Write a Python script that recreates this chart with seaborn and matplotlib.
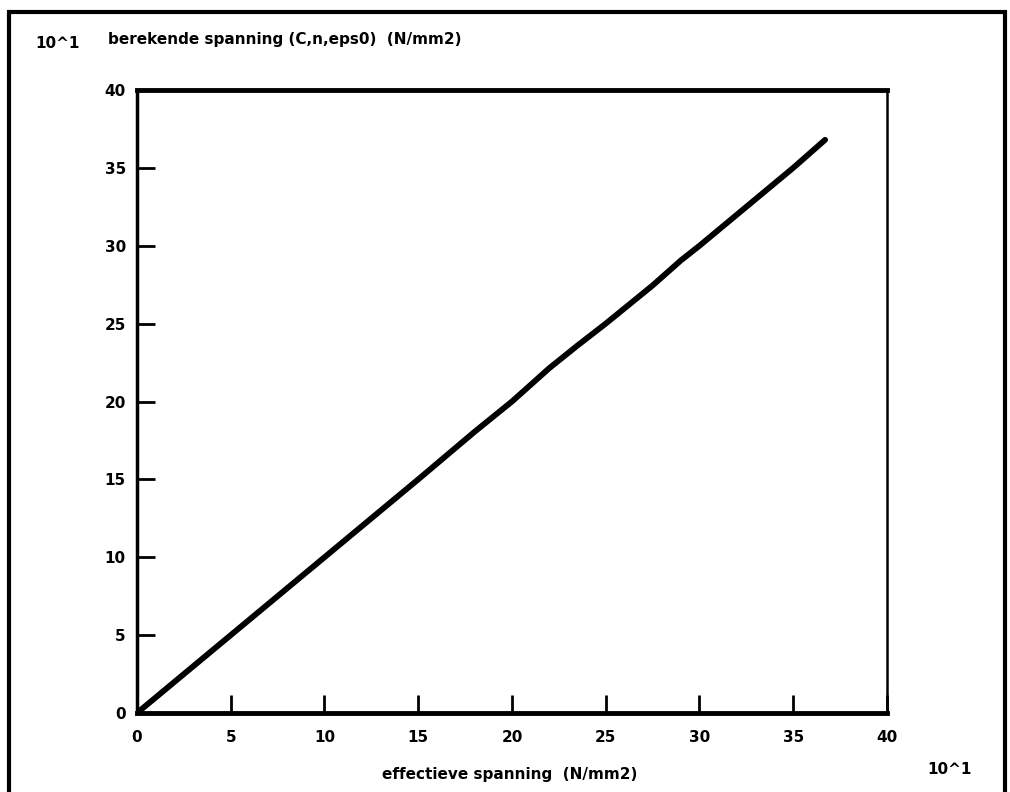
#!/usr/bin/env python3
"""Berekende vs effectieve spanning (units of 10^1 N/mm2)."""

import matplotlib.pyplot as plt
import matplotlib.patches as patches
import pandas as pd
import seaborn as sns

# Values (x and y both in 10^1 N/mm2)
effectief = [0.0, 5.0, 10.0, 15.0, 18.0, 20.0, 22.0, 23.5, 25.0,
             27.5, 29.0, 30.0, 35.0, 36.7]
berekend = [0.0, 5.0, 10.0, 15.0, 18.05, 20.0, 22.15, 23.6, 25.0,
            27.45, 29.05, 30.0, 35.0, 36.8]
ticks = [0, 5, 10, 15, 20, 25, 30, 35, 40]

df = pd.DataFrame({"x": effectief, "y": berekend})

sns.set_style("white")
plt.rcParams["font.family"] = ["DejaVu Sans"]
plt.rcParams["text.color"] = "black"
plt.rcParams["xtick.color"] = "black"
plt.rcParams["ytick.color"] = "black"

fig = plt.figure(figsize=(10.1, 7.92), dpi=100)
ax = fig.add_axes([0.1356, 0.0997, 0.7426, 0.7867])

sns.lineplot(data=df, x="x", y="y", color="black", linewidth=4.2, ax=ax)

ax.set_xlim(0, 40)
ax.set_ylim(0, 40)
ax.set_xticks(ticks)
ax.set_yticks(ticks)
ax.set_xticklabels([str(t) for t in ticks], fontsize=11, fontweight="bold")
ax.set_yticklabels([str(t) for t in ticks], fontsize=11, fontweight="bold")
ax.tick_params(bottom=True, left=True, direction="in", length=13, width=2,
               color="black", labelcolor="black")
ax.tick_params(axis="x", pad=12)
ax.tick_params(axis="y", pad=8)
ax.set_xlabel("")
ax.set_ylabel("")
for side, lw in [("left", 2.5), ("bottom", 3.5), ("top", 3.5), ("right", 1.8)]:
    ax.spines[side].set_visible(True)
    ax.spines[side].set_color("black")
    ax.spines[side].set_linewidth(lw)

# Labels placed like the original printout
fig.text(0.035, 0.945, "10^1", fontsize=11, fontweight="bold", va="center")
fig.text(0.107, 0.950, "berekende spanning (C,n,eps0)  (N/mm2)",
         fontsize=11, fontweight="bold", va="center")
fig.text(0.505, 0.022, "effectieve spanning  (N/mm2)", fontsize=11,
         fontweight="bold", ha="center", va="center")
fig.text(0.918, 0.028, "10^1", fontsize=11, fontweight="bold", va="center")

# Outer frame around the whole printout
fig.patches.append(patches.Rectangle((0.009, -0.01), 0.986, 0.995,
                                     transform=fig.transFigure, fill=False,
                                     edgecolor="black", linewidth=3))

fig.savefig("out.png", dpi=100)
plt.close(fig)
